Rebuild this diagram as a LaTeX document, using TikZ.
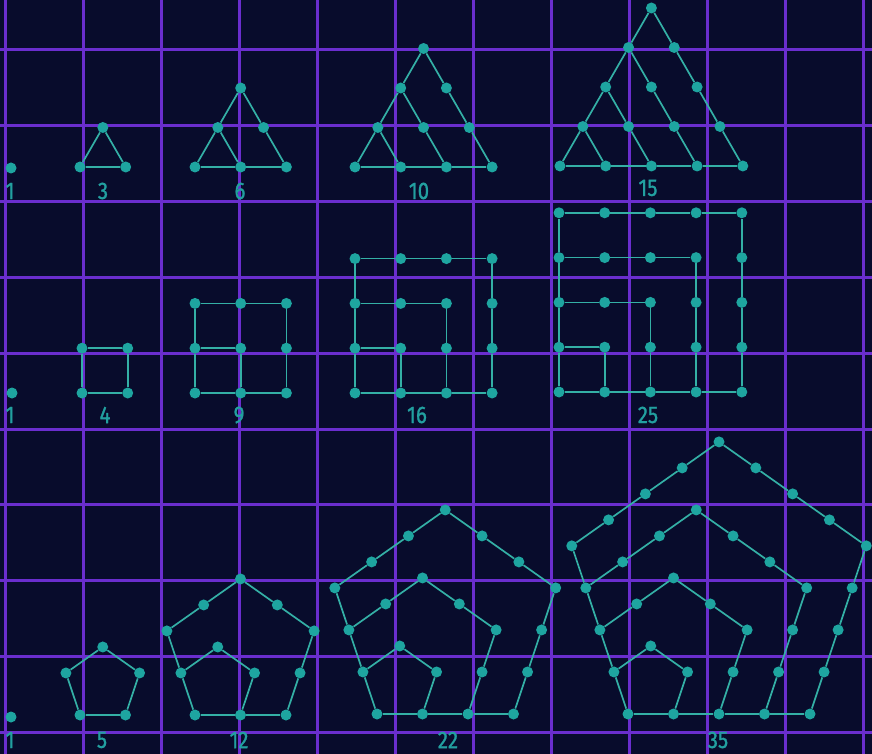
\documentclass[tikz,border=0pt]{standalone}
\usepackage{fontspec}
\setmainfont{Fira Sans}
\newfontfamily\labfont[FakeBold=1.2]{Fira Sans}
\definecolor{bg}{RGB}{8,12,44}
\definecolor{gridc}{RGB}{106,46,206}
\definecolor{dotc}{RGB}{30,165,160}
\definecolor{linec}{RGB}{52,176,166}
\definecolor{txtc}{RGB}{34,160,160}
\tikzset{
 dot/.style={circle,fill=dotc,inner sep=0pt,minimum size=11pt},
 ln/.style={draw=linec,line width=1.7pt},
 gridline/.style={draw=gridc,line width=3pt},
 lbl/.style={text=txtc,font=\labfont\fontsize{24}{24}\selectfont,inner sep=0pt}
}
\newcommand\figtri[4]{%
\begin{scope}[shift={(#3,#4)},x=45.7pt,y=39.5pt]
\foreach \jj in {0,...,#2}{%
  \pgfmathtruncatemacro\imax{#2-\jj}%
  \foreach \ii in {0,...,\imax}{\node[dot] (#1x\ii y\jj) at ({\ii+\jj/2},\jj) {};}%
}
\foreach \ii [evaluate=\ii as \pv using int(\ii-1)] in {1,...,#2}{%
  \draw[ln] (#1x\pv y0) -- (#1x\ii y0);
  \draw[ln] (#1x0y\pv) -- (#1x0y\ii);
}
\foreach \kq in {1,...,#2}{%
  \foreach \m [evaluate=\m as \q using int(\kq-\m), evaluate=\m as \qq using int(\kq-\m+1), evaluate=\m as \mprev using int(\m-1)] in {1,...,\kq}{%
    \draw[ln] (#1x\qq y\mprev) -- (#1x\q y\m);
  }
}
\end{scope}}
\newcommand\figsq[4]{%
\begin{scope}[shift={(#3,#4)},x=45.7pt,y=44.8pt]
\foreach \jj in {0,...,#2}{\foreach \ii in {0,...,#2}{\node[dot] (#1x\ii y\jj) at (\ii,\jj) {};}}
\foreach \ii [evaluate=\ii as \pv using int(\ii-1)] in {1,...,#2}{%
  \draw[ln] (#1x\pv y0) -- (#1x\ii y0);
  \draw[ln] (#1x0y\pv) -- (#1x0y\ii);
}
\foreach \kq in {1,...,#2}{%
  \foreach \ii [evaluate=\ii as \pv using int(\ii-1)] in {1,...,\kq}{%
    \draw[ln] (#1x\pv y\kq) -- (#1x\ii y\kq);
    \draw[ln] (#1x\kq y\pv) -- (#1x\kq y\ii);
  }
}
\end{scope}}
\newcommand\figpent[4]{%
\begin{scope}[shift={(#3,#4)},x=45.5pt,y=44.2pt]
\node[dot,alias=#1l0] (#1b0) at (0,0) {};
\foreach \ii in {1,...,#2}{\node[dot] (#1b\ii) at (\ii,0) {};}
\foreach \ii in {1,...,#2}{\node[dot] (#1l\ii) at ({-0.309*\ii},{0.951*\ii}) {};}
\foreach \kq in {1,...,#2}{%
  \pgfmathtruncatemacro\tmax{3*\kq-1}%
  \foreach \tq in {1,...,\tmax}{%
    \ifnum\tq>\numexpr2*\kq\relax
      \pgfmathsetmacro\px{0.5*\kq-0.809*(\tq-2*\kq)}%
      \pgfmathsetmacro\py{1.539*\kq-0.588*(\tq-2*\kq)}%
    \else\ifnum\tq>\kq
      \pgfmathsetmacro\px{1.309*\kq-0.809*(\tq-\kq)}%
      \pgfmathsetmacro\py{0.951*\kq+0.588*(\tq-\kq)}%
    \else
      \pgfmathsetmacro\px{\kq+0.309*\tq}%
      \pgfmathsetmacro\py{0.951*\tq}%
    \fi\fi
    \node[dot] (#1k\kq t\tq) at (\px,\py) {};
  }%
}
\foreach \ii [evaluate=\ii as \pv using int(\ii-1)] in {1,...,#2}{%
  \draw[ln] (#1b\pv) -- (#1b\ii);
  \draw[ln] (#1l\pv) -- (#1l\ii);
}
\foreach \kq in {1,...,#2}{%
  \pgfmathtruncatemacro\tmax{3*\kq-1}%
  \draw[ln] (#1b\kq) -- (#1k\kq t1);
  \draw[ln] (#1k\kq t\tmax) -- (#1l\kq);
  \foreach \tq [evaluate=\tq as \tp using int(\tq-1)] in {2,...,\tmax}{%
    \draw[ln] (#1k\kq t\tp) -- (#1k\kq t\tq);
  }
}
\end{scope}}
\newcommand\lab[1]{\scalebox{0.85}[1]{#1}}
\begin{document}
\begin{tikzpicture}[x=1pt,y=-1pt]
\useasboundingbox (0,0) rectangle (872,754);
\fill[bg] (0,0) rectangle (872,754);
\foreach \gk in {0,...,11} \draw[gridline] ({5+78*\gk},0) -- ({5+78*\gk},754);
\foreach \gk in {0,...,9} \draw[gridline] (0,{50+75.8*\gk}) -- (872,{50+75.8*\gk});
% single dots
\node[dot] (oneA) at (11,168) {};
\node[dot] (oneB) at (12,393) {};
\node[dot] (oneC) at (11,717) {};
% triangles
\figtri{tA}{1}{80}{167}
\figtri{tB}{2}{195}{167}
\figtri{tC}{3}{355}{167}
\figtri{tD}{4}{560}{166}
% squares
\figsq{sA}{1}{82}{393}
\figsq{sB}{2}{195}{393}
\figsq{sC}{3}{355}{393}
\figsq{sD}{4}{559}{392}
% pentagons
\figpent{pA}{1}{80}{715}
\figpent{pB}{2}{195}{715}
\figpent{pC}{3}{377}{714}
\figpent{pD}{4}{628}{714}
% labels
\node[lbl] (l1) at (10,191) {\lab{1}};
\node[lbl] (l3) at (103,191) {\lab{3}};
\node[lbl] (l6) at (240,191) {\lab{6}};
\node[lbl] (l10) at (419,191) {\lab{10}};
\node[lbl] (l15) at (648,188) {\lab{15}};
\node[lbl] (m1) at (10,415) {\lab{1}};
\node[lbl] (m4) at (105,415) {\lab{4}};
\node[lbl] (m9) at (239,415) {\lab{9}};
\node[lbl] (m16) at (417,415) {\lab{16}};
\node[lbl] (m25) at (648,415) {\lab{25}};
\node[lbl] (n1) at (10,740) {\lab{1}};
\node[lbl] (n5) at (102,740) {\lab{5}};
\node[lbl] (n12) at (239,740) {\lab{12}};
\node[lbl] (n22) at (448,740) {\lab{22}};
\node[lbl] (n35) at (718,740) {\lab{35}};
\end{tikzpicture}
\end{document}
